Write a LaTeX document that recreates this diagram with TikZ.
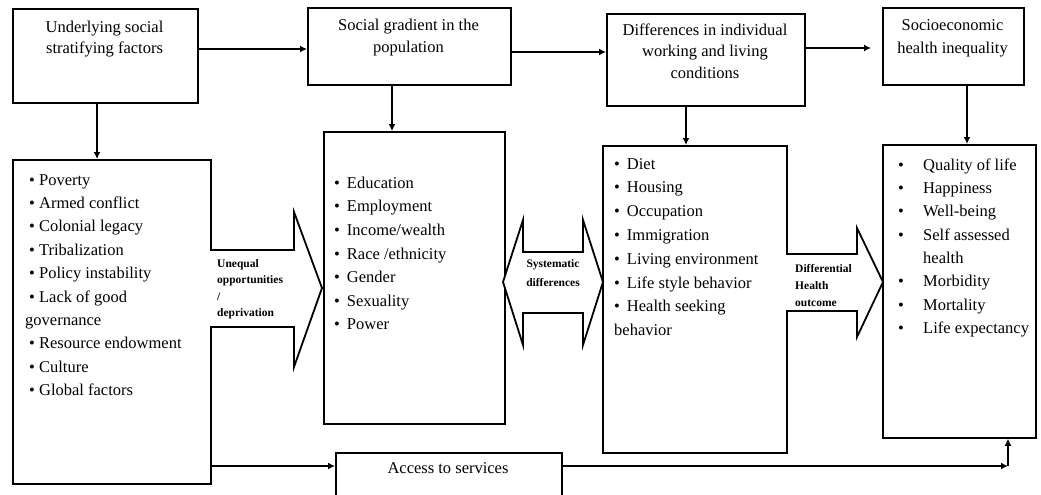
\documentclass[tikz,border=0pt]{standalone}
\usepackage{fontspec}
\setmainfont{Liberation Serif}
\usetikzlibrary{arrows.meta}
\newcommand{\lbul}{\hspace*{4pt}\textbullet\ }
\newcommand{\mbul}{\textbullet\hspace{7pt}}
\newcommand{\qbul}{\makebox[25pt][l]{\textbullet}}
\tikzset{
  box/.style={draw, line width=1.8pt, fill=white, inner sep=0pt, anchor=north west},
  ttl/.style={align=center, inner sep=0pt, anchor=north, font=\fontsize{16.5}{21.5}\selectfont},
  lst/.style={align=left, inner sep=0pt, anchor=north west},
  lbl/.style={inner sep=0pt, font=\bfseries\fontsize{11.5}{16.5}\selectfont},
  arr/.style={line width=1.8pt, -{Latex[length=7pt,width=7pt]}},
  blk/.style={line width=1.8pt, fill=white, line join=miter}
}
\begin{document}
\begin{tikzpicture}[x=1pt,y=-1pt]
\useasboundingbox (0,0) rectangle (1041,495);
\clip (0,0) rectangle (1041,495);
\fill[white] (0,0) rectangle (1041,495);
% top boxes
\node[box, minimum width=185pt, minimum height=94pt] (b1) at (12,8) {};
\node[box, minimum width=203pt, minimum height=77pt] (b2) at (307,7) {};
\node[box, minimum width=198pt, minimum height=92pt] (b3) at (606,13) {};
\node[box, minimum width=141pt, minimum height=77pt] (b4) at (882,7) {};
% list boxes
\node[box, minimum width=198pt, minimum height=324pt] (l1) at (12,159) {};
\node[box, minimum width=181pt, minimum height=292pt] (l2) at (323,131) {};
\node[box, minimum width=184pt, minimum height=307pt] (l3) at (602,145) {};
\node[box, minimum width=153pt, minimum height=293pt] (l4) at (882,144) {};
\node[box, minimum width=226pt, minimum height=70pt] (acc) at (335,452) {};
% block arrows
\draw[blk] (210,250) -- (294,250) -- (294,212) -- (322,288) -- (294,367) -- (294,327) -- (210,327);
\draw[blk] (503,282) -- (523,220) -- (523,252) -- (583,252) -- (583,220) -- (603,282)
  -- (583,345) -- (583,313) -- (523,313) -- (523,345) -- cycle;
\draw[blk] (786,254) -- (857,254) -- (857,228) -- (883,282) -- (857,337) -- (857,311) -- (786,311);
% titles
\node[ttl, font=\fontsize{16.5}{21}\selectfont] (t1) at (104.5,17.3) {\strut Underlying social\\stratifying factors};
\node[ttl, font=\fontsize{16.5}{22}\selectfont] (t2) at (408.5,14.6) {\strut Social gradient in the\\population};
\node[ttl] (t3) at (705,20) {\strut Differences in individual\\working and living\\conditions};
\node[ttl, font=\fontsize{16.5}{23}\selectfont] (t4) at (952.5,14) {\strut Socioeconomic\\health inequality};
% lists
\node[lst, font=\fontsize{16.5}{23.4}\selectfont] (i1) at (25,168.6) {\strut\lbul Poverty\\
\lbul Armed conflict\\
\lbul Colonial legacy\\
\lbul Tribalization\\
\lbul Policy instability\\
\lbul Lack of good\\
governance\\
\lbul Resource endowment\\
\lbul Culture\\
\lbul Global factors};
\node[lst, font=\fontsize{16.5}{23.6}\selectfont] (i2) at (334,171.5) {\strut\mbul Education\\
\mbul Employment\\
\mbul Income/wealth\\
\mbul Race /ethnicity\\
\mbul Gender\\
\mbul Sexuality\\
\mbul Power};
\node[lst, font=\fontsize{16.5}{23.8}\selectfont] (i3) at (614,152.3) {\strut\mbul Diet\\
\mbul Housing\\
\mbul Occupation\\
\mbul Immigration\\
\mbul Living environment\\
\mbul Life style behavior\\
\mbul Health seeking\\
behavior};
\node[lst, font=\fontsize{16.5}{23.3}\selectfont] (i4) at (898,153.7) {\strut\qbul Quality of life\\
\qbul Happiness\\
\qbul Well-being\\
\qbul Self assessed\\
\hspace*{25pt}health\\
\qbul Morbidity\\
\qbul Mortality\\
\qbul Life expectancy};
% block arrow labels
\node[lbl, align=left, anchor=north west] (u) at (217,255.5) {\strut Unequal\\opportunities\\/\\deprivation};
\node[lbl, align=center, anchor=north, font=\bfseries\fontsize{11.5}{19}\selectfont] (s) at (553,253.7) {\strut Systematic\\differences};
\node[lbl, align=left, anchor=north west, font=\bfseries\fontsize{11.5}{17}\selectfont] (d) at (795,260.1) {\strut Differential\\Health\\outcome};
\node[anchor=base, inner sep=0pt, font=\fontsize{16.5}{20}\selectfont] (acct) at (448,473) {Access to services};
% level coordinates
\coordinate (y49) at (0,49);
\coordinate (y52) at (0,52);
\coordinate (y48) at (0,48);
\coordinate (x97) at (97,0);
\coordinate (x392) at (392,0);
\coordinate (x686) at (686,0);
\coordinate (x967) at (967,0);
\coordinate (corner) at (1008,466);
% connectors
\draw[arr] (b1.east |- y49) -- (b2.west |- y49);
\draw[arr] (b2.east |- y52) -- (b3.west |- y52);
\draw[arr, shorten >=11pt] (b3.east |- y48) -- (b4.west |- y48);
\draw[arr] (b1.south -| x97) -- (l1.north -| x97);
\draw[arr] (b2.south -| x392) -- (l2.north -| x392);
\draw[arr] (b3.south -| x686) -- (l3.north -| x686);
\draw[arr] (b4.south -| x967) -- (l4.north -| x967);
\draw[arr] (l1.east |- corner) -- (acc.west |- corner);
\draw[arr] (acc.east |- corner) -- (corner);
\draw[arr] (corner) -- (l4.south -| corner);
\end{tikzpicture}
\end{document}
